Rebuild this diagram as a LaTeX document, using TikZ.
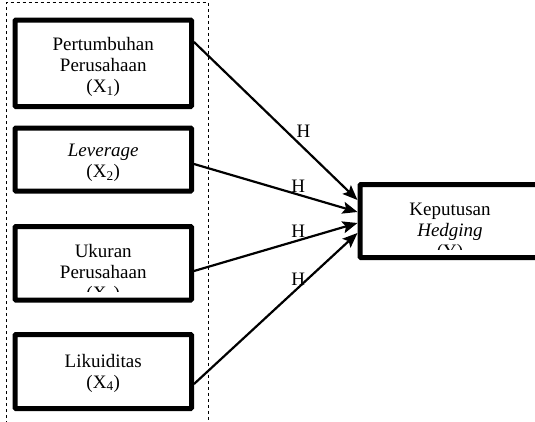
\documentclass[tikz,border=0pt]{standalone}
\usepackage{fontspec}
\setmainfont{Liberation Serif}
\usetikzlibrary{positioning,arrows.meta}

\begin{document}
\begin{tikzpicture}[x=1pt,y=-1pt,
    kotak/.style={rectangle,draw,line width=5pt,rounded corners=1pt},
    teks/.style={align=center,inner sep=0pt,font=\fontsize{19}{21}\selectfont},
    hlabel/.style={inner sep=0pt,font=\fontsize{19}{21}\selectfont},
    panah/.style={line width=2.2pt,-{Stealth[length=15pt,width=12pt,inset=3pt]}},
    bingkai/.style={line width=1pt,dash pattern=on 3.5pt off 2.5pt}]
  \useasboundingbox (0,0) rectangle (535,421);

  % dashed frame round the independent variables
  \draw[bingkai] (6,430) -- (6,2.7) -- (208.5,2.7) -- (208.5,430);

  % boxes
  \node[kotak,minimum width=176.5pt,minimum height=86.5pt] (x1) at (103.25,63.25) {};
  \node[kotak,minimum width=176.5pt,minimum height=63pt] (x2) at (103.25,159.5) {};
  \node[kotak,minimum width=176.5pt,minimum height=73.5pt] (x3) at (103.25,263.25) {};
  \node[kotak,minimum width=176.5pt,minimum height=74pt] (x4) at (103.25,371.5) {};
  \node[kotak,minimum width=185pt,minimum height=73pt] (y) at (452.5,221) {};

  % texts
  \node[teks,below=19.5pt of x1.north] (t1) {Pertumbuhan\\Perusahaan\\(X\textsubscript{1})};
  \node[teks,below=18.7pt of x2.north] (t2) {\textit{Leverage}\\(X\textsubscript{2})};
  \begin{scope}
    \clip (18,229) rectangle (188,291.5);
    \node[teks,below=19.7pt of x3.north] (t3) {Ukuran\\Perusahaan\\(X\textsubscript{3})};
  \end{scope}
  \node[teks,below=21.7pt of x4.north] (t4) {Likuiditas\\(X\textsubscript{4})};
  \begin{scope}
    \clip (363,187) rectangle (540,249.5);
    \node[teks,below=20.4pt of y.north,xshift=-2.5pt] (ty) {Keputusan\\\textit{Hedging}\\(Y)};
  \end{scope}

  % arrows
  \draw[panah] ([yshift=21.25pt]x1.east) -- ([yshift=21pt]y.west)
    node[hlabel,pos=0.67,yshift=17pt] (h1) {H};
  \draw[panah] ([yshift=-4.5pt]x2.east) -- ([yshift=9pt]y.west)
    node[hlabel,pos=0.637,yshift=8.6pt] (h2) {H};
  \draw[panah] ([yshift=-7.75pt]x3.east) -- ([yshift=-2pt]y.west)
    node[hlabel,pos=0.637,yshift=9.4pt] (h3) {H};
  \draw[panah] ([yshift=-12.5pt]x4.east) -- ([yshift=-12pt]y.west)
    node[hlabel,pos=0.637,yshift=8.8pt] (h4) {H};
\end{tikzpicture}
\end{document}
